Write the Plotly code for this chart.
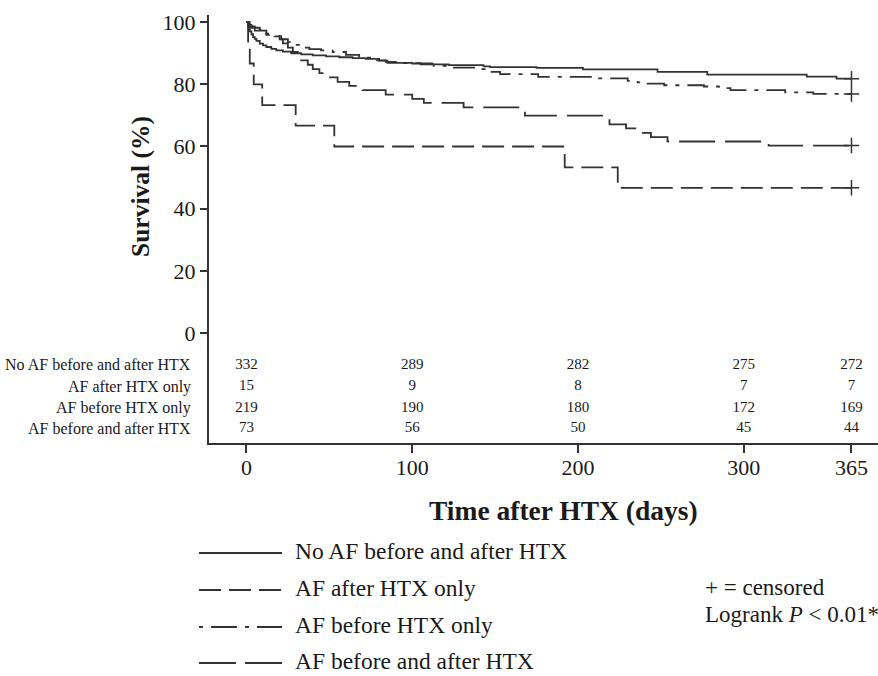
import plotly.graph_objects as go

# ---------------- data ----------------
no_af_days = [0, 1, 2, 3, 4, 5, 6, 8, 10, 12, 15, 18, 22, 27, 33, 40, 48, 56, 64, 72, 80, 85,
              100, 112, 122, 143, 147, 175, 203, 248, 278, 338, 356, 365]
no_af_surv = [100, 98.2, 97.0, 96.1, 95.2, 94.6, 94.0, 93.1, 92.5, 92.0, 91.4, 90.9, 90.5, 90.0,
              89.6, 89.3, 89.0, 88.7, 88.4, 88.2, 87.6, 86.9, 86.7, 86.4, 86.2, 85.8, 85.5, 85.3,
              84.8, 84.0, 83.1, 82.5, 81.8, 81.8]

af_after_days = [0, 1, 2, 4.4, 9.5, 29.7, 53, 192, 224, 365]
af_after_surv = [100, 93.3, 86.7, 80.0, 73.3, 66.7, 60.0, 53.3, 46.7, 46.7]

af_before_days = [0, 1, 3, 8, 11, 17, 21, 25, 29, 33, 38, 45, 52, 60, 68, 76, 84, 95, 105, 113,
                  122, 140, 145, 153, 176, 210, 230, 236, 242, 252, 276, 285, 292, 325, 342, 365]
af_before_surv = [100, 99.1, 98.2, 97.7, 96.3, 95.4, 94.5, 93.6, 92.7, 91.8, 91.3, 90.9, 90.4,
                  89.5, 88.6, 87.7, 87.2, 86.8, 86.4, 85.9, 85.4, 84.9, 84.0, 83.3, 82.4, 81.9,
                  81.1, 80.6, 80.2, 79.7, 79.3, 78.8, 78.1, 77.4, 76.9, 76.9]

af_both_days = [0, 2, 5, 12, 20, 22, 25, 28, 31, 33, 37, 40, 44, 48, 55, 62, 70, 84, 100, 107,
                131, 168, 219, 229, 238, 244, 254, 315, 365]
af_both_surv = [100, 98.6, 97.3, 95.9, 94.5, 93.2, 91.8, 90.4, 89.0, 87.7, 86.3, 84.9, 83.6,
                82.2, 80.8, 79.5, 78.1, 76.7, 75.3, 74.0, 72.6, 69.9, 67.1, 65.8, 64.4, 63.0,
                61.6, 60.3, 60.3]

group_names = ["No AF before and after HTX", "AF after HTX only",
               "AF before HTX only", "AF before and after HTX"]

risk_times = [0, 100, 200, 300, 365]
risk_no_af = [332, 289, 282, 275, 272]
risk_af_after = [15, 9, 8, 7, 7]
risk_af_before = [219, 190, 180, 172, 169]
risk_af_both = [73, 56, 50, 45, 44]

x_ticks = [0, 100, 200, 300, 365]
y_ticks = [0, 20, 40, 60, 80, 100]

# ---------------- styling ----------------
W, H = 878, 676
L, R, T, B = 209, 0, 15, 233
LINE = "#333333"
TXT = "#1a1a1a"
FONT = "Liberation Serif"
dashes = ["solid", "22px,8px", "22px,8px,4px,8px", "36px,10px"]
legend_dashes = ["solid", "22px,8px", "4px,8px,26px,8px", "37px,9px"]

X_RANGE = [-22.6, 381.0]
Y_RANGE = [-35.4, 102.3]


def px_to_paper_x(px):
    return (px - L) / (W - L - R)


def px_to_paper_y(py):
    return (H - B - py) / (H - T - B)


fig = go.Figure()

series = [(no_af_days, no_af_surv), (af_after_days, af_after_surv),
          (af_before_days, af_before_surv), (af_both_days, af_both_surv)]

for (d, s), dash, name in zip(series, dashes, group_names):
    fig.add_trace(go.Scatter(
        x=d, y=s, mode="lines", line=dict(shape="hv", color=LINE, width=1.8, dash=dash),
        name=name, showlegend=False, hoverinfo="skip"))
    fig.add_trace(go.Scatter(
        x=[d[-1]], y=[s[-1]], mode="markers",
        marker=dict(symbol="cross-thin", size=11, line=dict(color=LINE, width=1.5)),
        showlegend=False, hoverinfo="skip"))

# numbers at risk
row_y = [-10.3, -17.3, -24.2, -30.7]
risk_rows = [risk_no_af, risk_af_after, risk_af_before, risk_af_both]
for ry, vals, name in zip(row_y, risk_rows, group_names):
    fig.add_trace(go.Scatter(
        x=risk_times, y=[ry] * len(risk_times), mode="text",
        text=[str(v) for v in vals], textposition="middle center",
        textfont=dict(family=FONT, size=15, color=TXT),
        showlegend=False, hoverinfo="skip"))
    fig.add_annotation(
        x=px_to_paper_x(193), xref="paper", y=ry, yref="y", text=name, showarrow=False,
        xanchor="right", yanchor="middle", font=dict(family=FONT, size=16, color=TXT))

# axis titles
fig.add_annotation(
    x=px_to_paper_x(563), y=px_to_paper_y(511), xref="paper", yref="paper",
    text="<b>Time after HTX (days)</b>", showarrow=False, xanchor="center", yanchor="middle",
    font=dict(family=FONT, size=27.5, color=TXT))
fig.add_annotation(
    x=px_to_paper_x(140), y=px_to_paper_y(187), xref="paper", yref="paper",
    text="<b>Survival (%)</b>", showarrow=False, textangle=-90, xanchor="center",
    yanchor="middle", font=dict(family=FONT, size=25.5, color=TXT))

# custom legend
legend_rows_y = [553, 590, 627, 663]
for ly, dash, name in zip(legend_rows_y, legend_dashes, group_names):
    fig.add_shape(type="line", xref="paper", yref="paper",
                  x0=px_to_paper_x(199), x1=px_to_paper_x(282),
                  y0=px_to_paper_y(ly), y1=px_to_paper_y(ly),
                  line=dict(color=LINE, width=1.8, dash=dash))
    fig.add_annotation(
        x=px_to_paper_x(293), y=px_to_paper_y(ly - 2), xref="paper", yref="paper",
        text=name, showarrow=False, xanchor="left", yanchor="middle",
        font=dict(family=FONT, size=23.5, color=TXT))

fig.add_annotation(
    x=px_to_paper_x(703), y=px_to_paper_y(587), xref="paper", yref="paper",
    text="+ = censored", showarrow=False, xanchor="left", yanchor="middle",
    font=dict(family=FONT, size=23, color=TXT))
fig.add_annotation(
    x=px_to_paper_x(703), y=px_to_paper_y(614), xref="paper", yref="paper",
    text="Logrank <i>P</i> &lt; 0.01*", showarrow=False, xanchor="left", yanchor="middle",
    font=dict(family=FONT, size=23, color=TXT))

fig.update_layout(
    width=W, height=H,
    margin=dict(l=L, r=R, t=T, b=B, pad=0),
    paper_bgcolor="white", plot_bgcolor="white",
    font=dict(family=FONT, color=TXT),
    xaxis=dict(range=X_RANGE, tickvals=x_ticks, ticktext=[str(v) for v in x_ticks],
               showline=True, linecolor=LINE, linewidth=2, showgrid=False, zeroline=False,
               ticks="outside", ticklen=8, tickwidth=2, tickcolor=LINE, ticklabelstandoff=-4,
               tickfont=dict(family=FONT, size=22, color=TXT), fixedrange=True),
    yaxis=dict(range=Y_RANGE, tickvals=y_ticks, ticktext=[str(v) for v in y_ticks],
               showline=True, linecolor=LINE, linewidth=2, showgrid=False, zeroline=False,
               ticks="outside", ticklen=7, tickwidth=1.5, tickcolor=LINE,
               tickfont=dict(family=FONT, size=22, color=TXT), fixedrange=True),
)

fig.write_html("out.html", config={"displayModeBar": False},
               post_script="document.body.style.margin='0';document.body.style.padding='0';")
